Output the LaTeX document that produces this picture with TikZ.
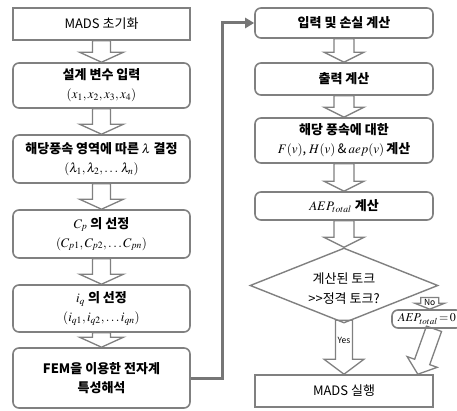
\documentclass[tikz,border=0pt]{standalone}
\usepackage{mathptmx}
\usepackage[no-math]{fontspec}
\newfontfamily\kr{Noto Sans CJK KR}
\usetikzlibrary{calc,shapes.geometric,arrows.meta}

\definecolor{edgegray}{RGB}{128,128,128}
\definecolor{linkgray}{RGB}{118,118,118}

\tikzset{
    box/.style={draw=edgegray, line width=1.6pt, minimum width=177pt, align=center, inner sep=1pt, font=\kr\fontsize{13}{19}\selectfont},
    rbox/.style={box, rounded corners=6pt},
    decision/.style={diamond, draw=edgegray, line width=1.4pt, aspect=2.5, minimum width=188pt, minimum height=75pt, inner sep=0pt},
    blk/.style={draw=edgegray, line width=1.3pt, line join=miter},
    link/.style={draw=linkgray, line width=3pt, -{Triangle[length=9pt,width=10pt]}},
    tag/.style={font=\kr\fontsize{8.5}{9}\selectfont, inner sep=0pt}
}

% hollow block arrow: from, to, shaft half width, head half width, head length
\newcommand{\blkarrow}[5]{%
    \coordinate (hb) at ($(#2)!#5!(#1)$);
    \draw[blk] ($(#1)!#3!90:(#2)$) -- ($(hb)!#3!90:(#2)$) -- ($(hb)!#4!90:(#2)$) -- (#2)
        -- ($(hb)!#4!-90:(#2)$) -- ($(hb)!#3!-90:(#2)$) -- ($(#1)!#3!-90:(#2)$) -- cycle;
}

\begin{document}
\begin{tikzpicture}[x=1pt, y=-1pt]
    \useasboundingbox (0,0) rectangle (457,411);
    \fill[white] (0,0) rectangle (457,411);

    % left column
    \node[box, minimum height=32pt] (init) at (101.5,24) {MADS 초기화};
    \node[rbox, minimum height=45pt] (vars) at (101.5,85.5) {\bfseries 설계 변수 입력\\ $(x_1, x_2, x_3, x_4)$};
    \node[rbox, minimum height=48pt] (lam) at (101.5,159) {\bfseries 해당풍속 영역에 따른 $\lambda$ 결정\\ $(\lambda_1, \lambda_2, \ldots\,\lambda_n)$};
    \node[rbox, minimum height=48pt] (cp) at (101.5,234) {\bfseries $C_p$ 의 선정\\ $(C_{p1}, C_{p2}, \ldots C_{pn})$};
    \node[rbox, minimum height=47pt] (iq) at (101.5,308.5) {\bfseries $i_q$ 의 선정\\ $(i_{q1}, i_{q2}, \ldots i_{qn})$};
    \node[rbox, minimum height=60pt] (fem) at (101.5,378) {\bfseries FEM을 이용한 전자계\\ \bfseries 특성해석};

    % right column
    \node[rbox, minimum width=178pt, minimum height=30pt] (loss) at (344,23) {\bfseries 입력 및 손실 계산};
    \node[rbox, minimum width=178pt, minimum height=32pt] (out) at (344,79) {\bfseries 출력 계산};
    \node[rbox, minimum width=178pt, minimum height=45pt] (aep) at (344,140.5) {\bfseries 해당 풍속에 대한\\ $F(v)$, $H(v)$\,\&\,$aep(v)$\,\bfseries 계산};
    \node[rbox, minimum width=178pt, minimum height=28pt] (tot) at (344,206) {$AEP_{total}$ \bfseries 계산};
    \node[decision] (chk) at (344,285.5) {};
    \node[align=center, font=\kr\fontsize{13}{17}\selectfont] (chktext) at ([yshift=-3pt]chk.center) {계산된 토크\\[3pt] >>정격 토크?};
    \node[rbox, minimum width=70pt, minimum height=18pt, inner sep=0pt, font=\fontsize{12}{14}\selectfont] (zero) at (427,319) {$AEP_{total}\!=\!0$};
    \node[box, minimum width=178pt, minimum height=32pt] (run) at (344,391) {MADS 실행};

    % block arrows
    \blkarrow{init.south}{vars.north}{9pt}{22pt}{10pt}
    \blkarrow{vars.south}{lam.north}{9pt}{22pt}{10pt}
    \blkarrow{lam.south}{cp.north}{9pt}{22pt}{10pt}
    \blkarrow{cp.south}{iq.north}{9pt}{22pt}{10pt}
    \blkarrow{iq.south}{fem.north}{9pt}{22pt}{10pt}
    \blkarrow{loss.south}{out.north}{10pt}{20pt}{10pt}
    \blkarrow{out.south}{aep.north}{10pt}{20pt}{10pt}
    \blkarrow{aep.south}{tot.north}{10pt}{20pt}{10pt}
    \blkarrow{tot.south}{chk.north}{10pt}{20pt}{10pt}

    \coordinate (yes0) at ($(chk.south)+(0,-3.4)$);
    \blkarrow{yes0}{run.north}{8.5pt}{20pt}{15pt}
    \node[tag] at ($(chk.south)!0.33!(run.north)$) {Yes};

    \coordinate (no0) at ($(chk.east)+(-9,12)$);
    \coordinate (no1) at (no0 |- zero.north);
    \blkarrow{no0}{no1}{9pt}{15pt}{6pt}
    \node[tag] at ($(no0)!0.4!(no1)$) {No};

    \coordinate (z0) at ($(zero.south)+(7,0)$);
    \coordinate (z1) at ($(run.north east)+(-16,0)$);
    \blkarrow{z0}{z1}{8pt}{16pt}{13pt}

    % link between columns
    \draw[link] (fem.east) -- ++(32,0) |- (loss.west);
\end{tikzpicture}
\end{document}
